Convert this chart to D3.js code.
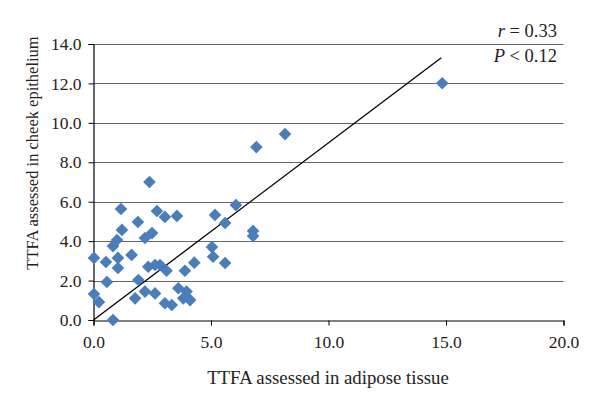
<!DOCTYPE html>
<html>
<head>
<meta charset="utf-8">
<script src="https://cdn.jsdelivr.net/npm/d3@7"></script>
<style>
  html, body { margin: 0; padding: 0; background: #fff; }
  svg { display: block; }
  text { font-family: "Liberation Serif", "DejaVu Serif", serif; fill: #222; }
</style>
</head>
<body>
<svg id="chart" width="600" height="403"></svg>
<script>
// Data: TTFA adipose tissue (x) vs cheek epithelium (y)
const adipose = [0.02,0.02,0.23,0.53,0.57,0.83,0.83,1.0,1.04,1.04,1.17,1.21,1.62,1.77,1.91,1.89,2.19,2.38,2.19,2.33,2.49,2.62,2.7,2.62,2.83,3.04,3.04,3.11,3.33,3.55,3.61,3.82,3.89,3.96,4.11,4.29,5.04,5.17,5.09,5.6,5.6,6.06,6.79,6.79,6.93,8.15,14.84];
const cheek   = [3.15,1.32,0.91,2.94,1.93,3.75,0.0,4.06,2.64,3.15,5.63,4.57,3.3,1.1,2.03,4.97,4.16,7.0,1.44,2.7,4.41,1.35,5.53,2.79,2.79,0.85,5.23,2.5,0.76,5.28,1.61,1.1,2.5,1.44,1.01,2.91,3.7,5.33,3.21,2.89,4.92,5.83,4.52,4.26,8.77,9.43,12.01];
const trendX = [0, 14.8];
const trendY = [0, 13.3];
const xTicks = [0, 5, 10, 15, 20];
const yTicks = [0, 2, 4, 6, 8, 10, 12, 14];
const xTitle = "TTFA assessed in adipose tissue";
const yTitle = "TTFA assessed in cheek epithelium";
const statR = "0.33";
const statP = "0.12";

const svg = d3.select("#chart");
const x = d3.scaleLinear().domain([0, 20]).range([93.5, 563.5]);
const y = d3.scaleLinear().domain([0, 14]).range([320, 44]);

// gridlines
svg.append("g").selectAll("line").data(yTicks.filter(d => d > 0)).join("line")
  .attr("x1", x(0)).attr("x2", x(20))
  .attr("y1", d => Math.round(y(d)) + 0.5).attr("y2", d => Math.round(y(d)) + 0.5)
  .attr("stroke", "#666").attr("stroke-width", 1.2);

// axes
const xAxis = d3.axisBottom(x).tickValues(xTicks).tickFormat(d3.format(".1f")).tickSizeOuter(0).tickSize(5).tickPadding(10);
const yAxis = d3.axisLeft(y).tickValues(yTicks).tickFormat(d3.format(".1f")).tickSizeOuter(0).tickSize(5).tickPadding(7);

const gx = svg.append("g").attr("transform", "translate(0,320.5)").call(xAxis);
const gy = svg.append("g").attr("transform", "translate(93.5,0)").call(yAxis);
[gx, gy].forEach(g => {
  g.select(".domain").attr("stroke", "#000").attr("stroke-width", 1.2);
  g.selectAll(".tick line").attr("stroke", "#000");
  g.selectAll(".tick text").attr("font-size", "17.5px").attr("fill", "#222")
    .attr("font-family", "Liberation Serif, DejaVu Serif, serif");
});

// trend line
svg.append("line")
  .attr("x1", x(trendX[0])).attr("y1", y(trendY[0]))
  .attr("x2", x(trendX[1])).attr("y2", y(trendY[1]))
  .attr("stroke", "#000").attr("stroke-width", 1.3);

// points
const pts = adipose.map((d, i) => [d, cheek[i]]);
const diamond = d3.symbol().type(d3.symbolSquare).size(80);
svg.append("g").selectAll("path").data(pts).join("path")
  .attr("d", diamond)
  .attr("transform", d => `translate(${x(d[0])},${y(d[1])}) rotate(45)`)
  .attr("fill", "#4a7ebb");

// axis titles
svg.append("text").attr("x", 328).attr("y", 384)
  .attr("text-anchor", "middle").attr("font-size", "18.8px").text(xTitle);
svg.append("text").attr("transform", "translate(38,153) rotate(-90)")
  .attr("text-anchor", "middle").attr("font-size", "16.5px").text(yTitle);

// stats
const t1 = svg.append("text").attr("x", 557).attr("y", 37).attr("text-anchor", "end").attr("font-size", "18.5px");
t1.append("tspan").attr("font-style", "italic").text("r");
t1.append("tspan").text(" = " + statR);
const t2 = svg.append("text").attr("x", 557).attr("y", 62).attr("text-anchor", "end").attr("font-size", "18.5px");
t2.append("tspan").attr("font-style", "italic").text("P");
t2.append("tspan").text(" < " + statP);
</script>
</body>
</html>
